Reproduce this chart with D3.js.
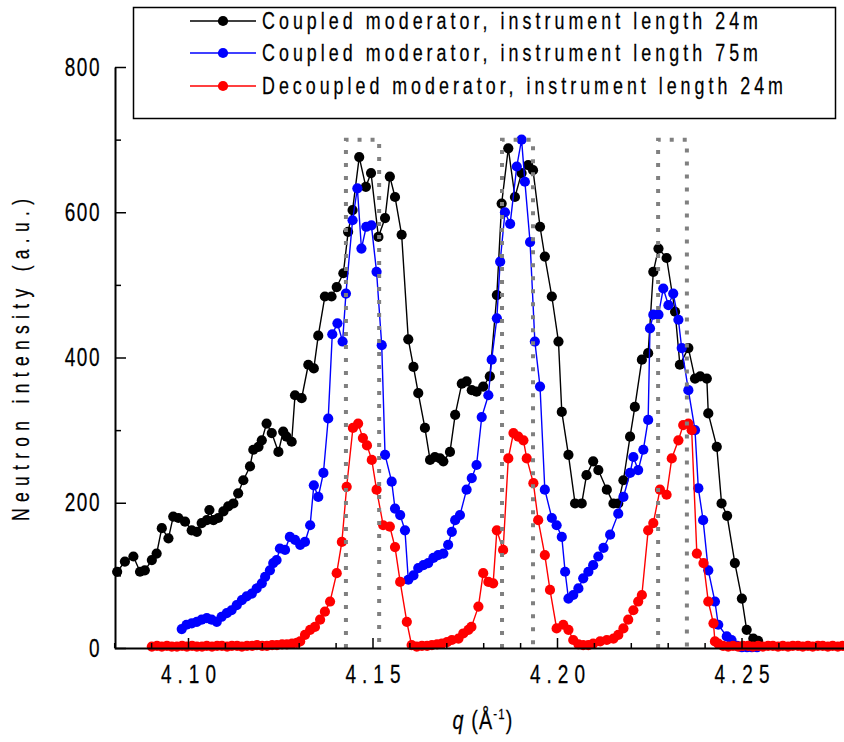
<!DOCTYPE html>
<html>
<head>
<meta charset="utf-8">
<script src="https://cdn.jsdelivr.net/npm/d3@7"></script>
<style>
  html, body { margin: 0; padding: 0; background: #fff; }
  svg { display: block; }
  text { font-family: "Liberation Sans", Arial, sans-serif; fill: #000; stroke: #000; stroke-width: 0.25px; }
</style>
</head>
<body>
<svg id="chart" width="844" height="742"></svg>
<script>
// Diffraction peak profiles, intensity vs. momentum transfer q
const coupled24 = [[4.0808,105],[4.0829,119],[4.0852,126],[4.0870,105],[4.0883,107],[4.0902,121],[4.0915,130],[4.0929,165],[4.0947,151],[4.0960,181],[4.0974,179],[4.0992,174],[4.1010,162],[4.1024,160],[4.1037,172],[4.1051,176],[4.1058,190],[4.1069,176],[4.1082,179],[4.1096,188],[4.1109,195],[4.1123,199],[4.1136,213],[4.1150,231],[4.1168,250],[4.1177,273],[4.1191,277],[4.1200,286],[4.1213,309],[4.1227,296],[4.1245,270],[4.1258,298],[4.1267,291],[4.1281,284],[4.1290,348],[4.1308,344],[4.1326,390],[4.1341,385],[4.1353,430],[4.1371,484],[4.1389,484],[4.1403,497],[4.1421,516],[4.1434,573],[4.1446,603],[4.1464,676],[4.1482,635],[4.1496,654],[4.1516,566],[4.1534,592],[4.1547,649],[4.1561,621],[4.1579,569],[4.1597,425],[4.1611,387],[4.1624,351],[4.1642,303],[4.1656,259],[4.1669,263],[4.1683,261],[4.1692,257],[4.1710,270],[4.1724,321],[4.1742,364],[4.1755,367],[4.1769,355],[4.1782,353],[4.1800,360],[4.1818,374],[4.1837,486],[4.1850,612],[4.1868,688],[4.1886,621],[4.1904,654],[4.1922,665],[4.1935,658],[4.1954,580],[4.1967,539],[4.1986,484],[4.2004,422],[4.2013,325],[4.2031,266],[4.2049,199],[4.2067,199],[4.2080,238],[4.2098,257],[4.2112,245],[4.2135,218],[4.2153,199],[4.2166,199],[4.2180,231],[4.2198,291],[4.2211,332],[4.2230,397],[4.2247,406],[4.2261,518],[4.2275,550],[4.2297,537],[4.2320,463],[4.2333,390],[4.2356,413],[4.2374,371],[4.2388,374],[4.2406,371],[4.2410,323],[4.2433,277],[4.2446,199],[4.2461,182],[4.2482,117],[4.2501,68],[4.2514,25],[4.2532,13],[4.2545,10]];

const coupled75 = [[4.0983,26],[4.0996,32],[4.1010,34],[4.1024,36],[4.1037,39],[4.1051,41],[4.1064,39],[4.1078,36],[4.1091,43],[4.1105,48],[4.1118,52],[4.1132,59],[4.1146,66],[4.1159,71],[4.1173,75],[4.1186,82],[4.1200,89],[4.1209,98],[4.1222,107],[4.1231,117],[4.1240,121],[4.1249,137],[4.1263,135],[4.1276,153],[4.1290,149],[4.1304,142],[4.1317,146],[4.1331,169],[4.1341,224],[4.1353,208],[4.1367,241],[4.1380,316],[4.1391,432],[4.1405,447],[4.1419,422],[4.1428,488],[4.1446,589],[4.1459,633],[4.1470,550],[4.1483,580],[4.1497,582],[4.1511,518],[4.1525,417],[4.1534,266],[4.1552,229],[4.1561,192],[4.1575,183],[4.1588,162],[4.1597,94],[4.1611,100],[4.1624,110],[4.1638,114],[4.1651,117],[4.1665,124],[4.1678,128],[4.1692,130],[4.1705,142],[4.1715,160],[4.1724,176],[4.1737,183],[4.1755,218],[4.1769,234],[4.1782,252],[4.1796,318],[4.1814,348],[4.1823,397],[4.1837,454],[4.1846,532],[4.1859,600],[4.1873,584],[4.1891,663],[4.1904,700],[4.1913,642],[4.1927,559],[4.1940,422],[4.1954,360],[4.1967,218],[4.1986,179],[4.1999,169],[4.2013,153],[4.2022,105],[4.2031,68],[4.2044,73],[4.2058,82],[4.2071,96],[4.2085,105],[4.2098,114],[4.2112,126],[4.2126,138],[4.2144,156],[4.2166,185],[4.2180,208],[4.2198,241],[4.2207,263],[4.2220,245],[4.2234,273],[4.2247,314],[4.2252,440],[4.2261,459],[4.2275,459],[4.2288,495],[4.2302,472],[4.2315,488],[4.2329,452],[4.2338,413],[4.2356,355],[4.2374,300],[4.2383,220],[4.2396,176],[4.2410,107],[4.2428,64],[4.2437,32],[4.2460,16],[4.2473,11],[4.2488,3],[4.2501,1],[4.2515,1],[4.2528,1],[4.2542,1]];

const decoupled24 = [[4.0902,2],[4.0916,3],[4.0929,2],[4.0943,3],[4.0956,2],[4.0970,2],[4.0984,3],[4.0997,2],[4.1011,3],[4.1024,2],[4.1038,2],[4.1051,3],[4.1065,2],[4.1079,3],[4.1092,3],[4.1106,2],[4.1119,3],[4.1133,3],[4.1146,2],[4.1160,3],[4.1174,3],[4.1187,4],[4.1201,3],[4.1214,3],[4.1228,4],[4.1241,4],[4.1255,5],[4.1268,5],[4.1282,6],[4.1295,7],[4.1304,9],[4.1317,18],[4.1331,25],[4.1344,29],[4.1358,39],[4.1371,50],[4.1385,64],[4.1403,103],[4.1417,146],[4.1430,222],[4.1447,303],[4.1461,309],[4.1474,289],[4.1485,279],[4.1498,259],[4.1511,218],[4.1529,169],[4.1547,167],[4.1561,139],[4.1575,91],[4.1593,36],[4.1606,4],[4.1620,2],[4.1634,3],[4.1648,3],[4.1661,4],[4.1675,5],[4.1688,6],[4.1702,8],[4.1715,11],[4.1733,13],[4.1746,20],[4.1760,25],[4.1768,29],[4.1787,57],[4.1800,103],[4.1814,91],[4.1827,89],[4.1837,162],[4.1854,135],[4.1868,261],[4.1882,296],[4.1895,291],[4.1909,286],[4.1918,261],[4.1936,227],[4.1949,176],[4.1967,128],[4.1981,80],[4.1999,27],[4.2017,32],[4.2031,25],[4.2044,11],[4.2058,5],[4.2071,4],[4.2085,4],[4.2098,6],[4.2117,9],[4.2135,11],[4.2153,13],[4.2166,18],[4.2180,27],[4.2193,39],[4.2207,52],[4.2220,64],[4.2230,73],[4.2247,162],[4.2261,172],[4.2279,218],[4.2297,211],[4.2311,261],[4.2329,286],[4.2342,307],[4.2356,309],[4.2365,300],[4.2379,130],[4.2397,117],[4.2410,64],[4.2424,34],[4.2428,9],[4.2437,6],[4.2450,3],[4.2464,2],[4.2477,3],[4.2491,2],[4.2504,3],[4.2518,3],[4.2531,2],[4.2545,3],[4.2558,2],[4.2572,3],[4.2585,3],[4.2599,2],[4.2612,3],[4.2626,2],[4.2639,3],[4.2653,3],[4.2666,2],[4.2680,3],[4.2693,2],[4.2707,3],[4.2720,3],[4.2734,2],[4.2747,3],[4.2761,2],[4.2774,3],[4.2788,3]];

// q windows marked with dotted boxes (lower edge, upper edge)
const qWindows = [[4.1428, 4.1518], [4.1851, 4.1935], [4.2274, 4.2352]];
const windowTop = 700;

const seriesNames = [
  "Coupled moderator, instrument length 24m",
  "Coupled moderator, instrument length 75m",
  "Decoupled moderator, instrument length 24m"
];
const seriesColors = ["#000000", "#0000ff", "#ff0000"];
const seriesData = [coupled24, coupled75, decoupled24];

const xMajorTicks = [4.10, 4.15, 4.20, 4.25];
const xMinorTicks = [4.08, 4.09, 4.11, 4.12, 4.13, 4.14, 4.16, 4.17, 4.18, 4.19, 4.21, 4.22, 4.23, 4.24, 4.26, 4.27];
const yMajorTicks = [0, 200, 400, 600, 800];
const yMinorTicks = [100, 300, 500, 700];

// condensed lettering: glyphs squeezed horizontally
const SQUEEZE = 0.76;

const svg = d3.select("#chart");
svg.append("rect").attr("width", 844).attr("height", 742).attr("fill", "#fff");

const x = d3.scaleLinear().domain([4.08, 4.28]).range([114.2, 852.2]);
const y = d3.scaleLinear().domain([0, 800]).range([648, 67]);

// data curves
const line = d3.line().x(d => x(d[0])).y(d => y(d[1]));
seriesData.forEach((data, i) => {
  const g = svg.append("g");
  g.append("path").datum(data)
    .attr("d", line)
    .attr("fill", "none")
    .attr("stroke", seriesColors[i])
    .attr("stroke-width", 1.4);
  g.selectAll("circle").data(data).join("circle")
    .attr("cx", d => x(d[0]))
    .attr("cy", d => y(d[1]))
    .attr("r", 5.1)
    .attr("fill", seriesColors[i]);
});

// dotted q windows
qWindows.forEach(w => {
  svg.append("path")
    .attr("d", `M${x(w[0])},${y(0)}V${y(windowTop)}H${x(w[1])}V${y(0)}`)
    .attr("fill", "none")
    .attr("stroke", "#808080")
    .attr("stroke-width", 4)
    .attr("stroke-dasharray", "4 9");
});

// axes
const xAxis = svg.append("g").attr("transform", `translate(0,${y(0)})`)
  .call(d3.axisBottom(x).tickValues(xMajorTicks).tickFormat(d3.format(".2f"))
    .tickSizeInner(-10).tickSizeOuter(0).tickPadding(17));
xAxis.select(".domain").attr("stroke-width", 2);
xAxis.selectAll(".tick line").attr("stroke-width", 1.5);
xAxis.selectAll(".tick text").attr("font-size", 25).attr("font-family", "Liberation Sans, Arial, sans-serif")
  .attr("transform", `scale(${SQUEEZE},1)`)
  .attr("textLength", 55 / SQUEEZE).attr("lengthAdjust", "spacing");

const xMinor = svg.append("g").attr("transform", `translate(0,${y(0)})`)
  .call(d3.axisBottom(x).tickValues(xMinorTicks).tickFormat("").tickSizeInner(-5).tickSizeOuter(0));
xMinor.select(".domain").remove();
xMinor.selectAll(".tick line").attr("stroke-width", 1.5);

const yAxis = svg.append("g").attr("transform", `translate(${x(4.08) + 0.8},0)`)
  .call(d3.axisLeft(y).tickValues(yMajorTicks).tickFormat(d3.format("d"))
    .tickSizeInner(-11).tickSizeOuter(0).tickPadding(14 / SQUEEZE));
yAxis.select(".domain").attr("stroke-width", 2);
yAxis.selectAll(".tick line").attr("stroke-width", 1.5);
yAxis.selectAll(".tick text").attr("font-size", 25).attr("font-family", "Liberation Sans, Arial, sans-serif")
  .attr("transform", `scale(${SQUEEZE},1)`)
  .attr("letter-spacing", 2);

const yMinor = svg.append("g").attr("transform", `translate(${x(4.08) + 0.8},0)`)
  .call(d3.axisLeft(y).tickValues(yMinorTicks).tickFormat("").tickSizeInner(-6).tickSizeOuter(0));
yMinor.select(".domain").remove();
yMinor.selectAll(".tick line").attr("stroke-width", 1.5);

// axis titles
svg.append("g")
  .attr("transform", `translate(29,360) rotate(-90) scale(${SQUEEZE},1)`)
  .append("text")
  .attr("text-anchor", "middle")
  .attr("font-size", 23)
  .attr("textLength", 322 / SQUEEZE).attr("lengthAdjust", "spacing")
  .text("Neutron intensity (a.u.)");

const xt = svg.append("g")
  .attr("transform", `translate(483,729) scale(${SQUEEZE},1)`)
  .append("text")
  .attr("text-anchor", "middle")
  .attr("font-size", 26)
  .attr("letter-spacing", 1.5);
xt.append("tspan").attr("font-style", "italic").text("q");
xt.append("tspan").text(" (Å");
xt.append("tspan").attr("dy", -10).attr("font-size", 15).text("-1");
xt.append("tspan").attr("dy", 10).text(")");

// legend
const legend = svg.append("g");
legend.append("rect")
  .attr("x", 133.5).attr("y", 7.5).attr("width", 702).attr("height", 111)
  .attr("fill", "#fff").attr("stroke", "#000").attr("stroke-width", 1.5);
const legendRows = [21, 53, 86];
const legendLengths = [496, 496, 521];
seriesNames.forEach((name, i) => {
  const ly = legendRows[i];
  legend.append("line")
    .attr("x1", 190).attr("x2", 256).attr("y1", ly).attr("y2", ly)
    .attr("stroke", seriesColors[i]).attr("stroke-width", 1.4);
  legend.append("circle")
    .attr("cx", 223).attr("cy", ly).attr("r", 5.1).attr("fill", seriesColors[i]);
  legend.append("g")
    .attr("transform", `translate(262,${ly}) scale(${SQUEEZE},1)`)
    .append("text")
    .attr("dy", "0.36em")
    .attr("font-size", 23.5)
    .attr("textLength", legendLengths[i] / SQUEEZE).attr("lengthAdjust", "spacing")
    .text(name);
});
</script>
</body>
</html>
